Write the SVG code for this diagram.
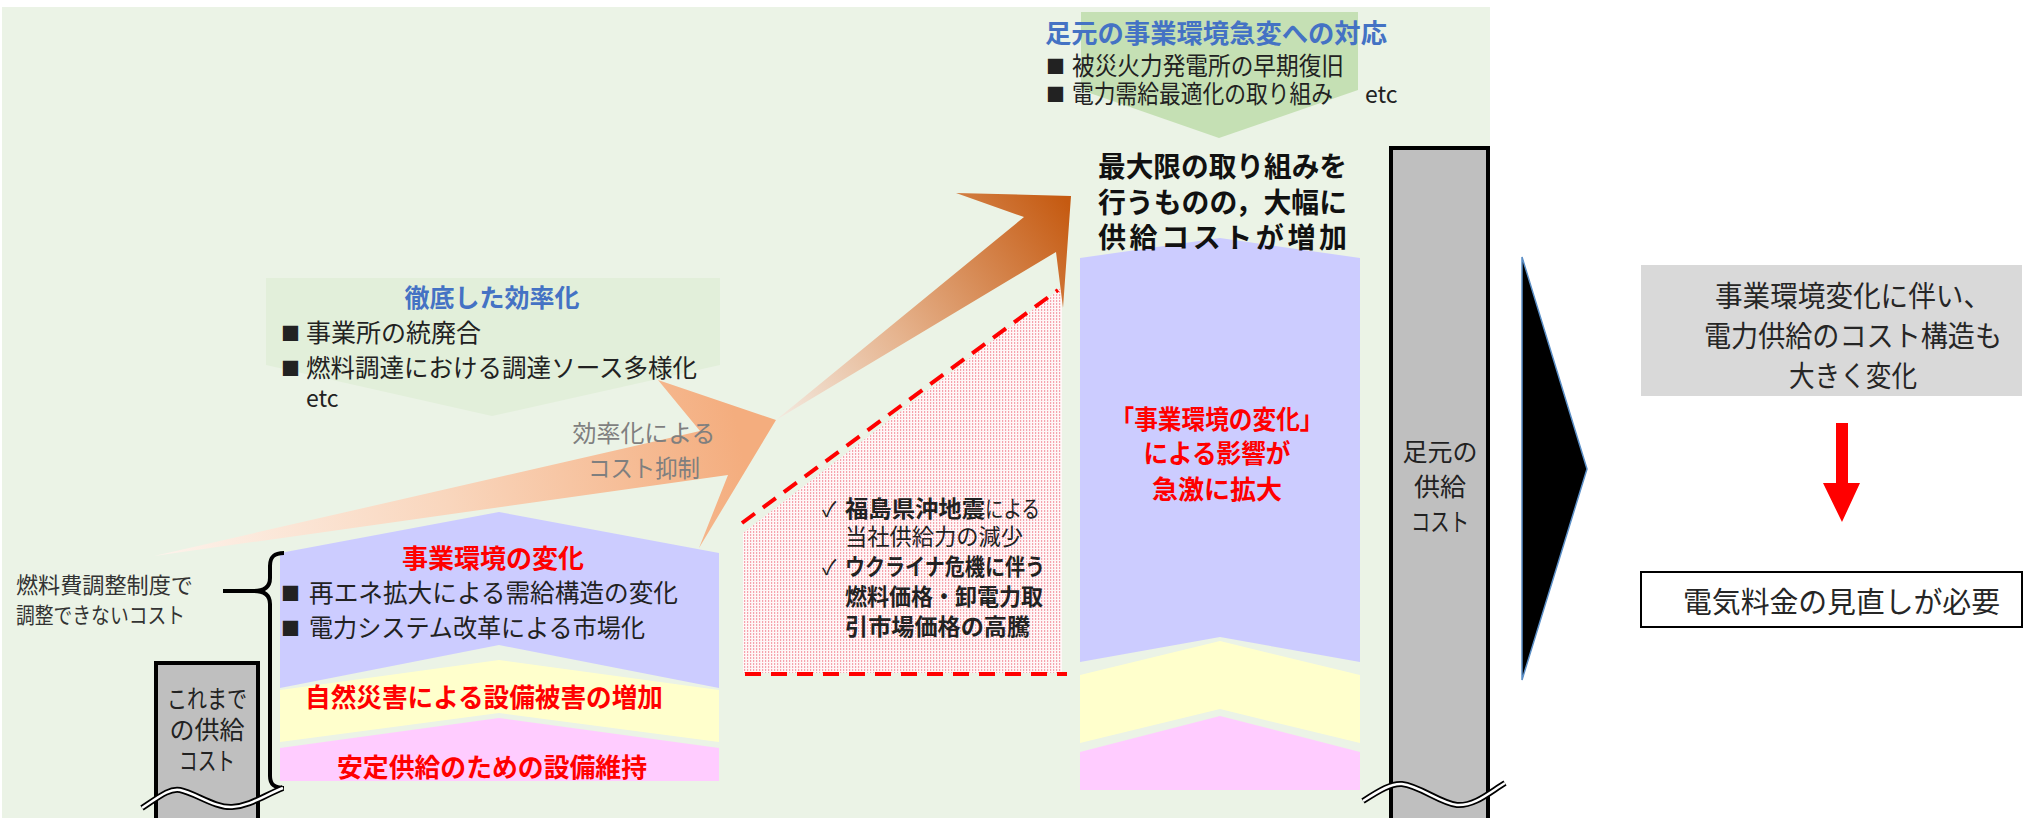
<svg xmlns="http://www.w3.org/2000/svg" width="2030" height="818" viewBox="0 0 2030 818">
<defs>
<style>
text{font-family:'Noto Sans CJK JP','Noto Sans CJK SC',sans-serif;}
.b{font-weight:bold;}
.blk{fill:#222;}
.red{fill:#ff0000;font-weight:bold;}
.blue{fill:#4472c4;font-weight:bold;}
.col{fill:#bfbfbf;stroke:#000;stroke-width:4;}
.wave1{fill:none;stroke:#000;stroke-width:6;}
.wave2{fill:none;stroke:#fff;stroke-width:2.5;}
.dash{fill:none;stroke:#ff0000;stroke-width:4;stroke-dasharray:16 10;}
</style>
<pattern id="dots" width="3" height="3" patternUnits="userSpaceOnUse">
<rect width="3" height="3" fill="#fff7f7"/>
<rect x="0" y="0" width="1.2" height="2" fill="#f5a3ad"/>
</pattern>
<linearGradient id="g1" gradientUnits="userSpaceOnUse" x1="154" y1="556" x2="740" y2="440">
<stop offset="0" stop-color="#fdf3ec"/>
<stop offset="0.5" stop-color="#f9d6bd"/>
<stop offset="1" stop-color="#f4ad7e"/>
</linearGradient>
<linearGradient id="g2" gradientUnits="userSpaceOnUse" x1="780" y1="420" x2="1070" y2="205">
<stop offset="0" stop-color="#f3e9df"/>
<stop offset="0.4" stop-color="#e6b48f"/>
<stop offset="1" stop-color="#c55a11"/>
</linearGradient>
</defs>

<rect x="0" y="0" width="2030" height="818" fill="#ffffff"/>
<rect id="background" x="2" y="7" width="1488" height="811" fill="#ebf3e6"/>

<g id="efficiency">
<polygon points="266,278 720,278 720,365 492,416 266,365" fill="#e2efda"/>
<text class="blue" x="492" y="307" font-size="25" text-anchor="middle">徹底した効率化</text>
<text class="blk" x="281" y="341" font-size="19">■</text>
<text class="blk" x="306" y="342" font-size="25">事業所の統廃合</text>
<text class="blk" x="281" y="376" font-size="19">■</text>
<text class="blk" x="306" y="377" font-size="25" textLength="391" lengthAdjust="spacingAndGlyphs">燃料調達における調達ソース多様化</text>
<text class="blk" x="306" y="407" font-size="23">etc</text>
</g>

<g id="response">
<polygon points="1081,12 1358,12 1358,90 1219,138 1081,90" fill="#c5e0b4"/>
<text class="blue" x="1045" y="43" font-size="26" textLength="342" lengthAdjust="spacingAndGlyphs">足元の事業環境急変への対応</text>
<text class="blk" x="1046" y="74" font-size="19">■</text>
<text class="blk" x="1072" y="75" font-size="25" textLength="272" lengthAdjust="spacingAndGlyphs">被災火力発電所の早期復旧</text>
<text class="blk" x="1046" y="102" font-size="19">■</text>
<text class="blk" x="1072" y="103" font-size="25" textLength="261" lengthAdjust="spacingAndGlyphs">電力需給最適化の取り組み</text>
<text class="blk" x="1365" y="103" font-size="23">etc</text>
</g>

<g id="impact-area">
<polygon points="743,533 1062,287 1062,673 743,673" fill="url(#dots)"/>
<text class="blk" x="822" y="517" font-size="21">✓</text>
<text class="blk b" x="845" y="517" font-size="23" textLength="140" lengthAdjust="spacingAndGlyphs">福島県沖地震</text>
<text class="blk" x="985" y="517" font-size="23" textLength="55" lengthAdjust="spacingAndGlyphs">による</text>
<text class="blk" x="845" y="545" font-size="23" textLength="178" lengthAdjust="spacingAndGlyphs">当社供給力の減少</text>
<text class="blk" x="822" y="575" font-size="21">✓</text>
<text class="blk b" x="845" y="575" font-size="23" textLength="200" lengthAdjust="spacingAndGlyphs">ウクライナ危機に伴う</text>
<text class="blk b" x="845" y="605" font-size="23" textLength="198" lengthAdjust="spacingAndGlyphs">燃料価格・卸電力取</text>
<text class="blk b" x="845" y="635" font-size="23" textLength="185" lengthAdjust="spacingAndGlyphs">引市場価格の高騰</text>
</g>

<g id="connectors">
<polyline class="dash" points="742,523 1058,290"/>
<line class="dash" x1="745" y1="674" x2="1067" y2="674"/>
<polygon id="arrow-efficiency" points="154,556 700,431 658,380 776,420 699,548 728,475" fill="url(#g1)"/>
<polygon id="arrow-increase" points="776,420 1024,217 956,193 1071,196 1063,308 1056,252" fill="url(#g2)"/>
<polygon id="arrow-down" points="1836,423 1848,423 1848,483 1860,483 1842,522 1823,483 1836,483" fill="#ff0000"/>
<polygon id="big-chevron" points="1522,257 1587,469 1522,680" fill="#000" stroke="#5b8fc7" stroke-width="1.5"/>
</g>

<g id="arrow-label">
<text x="644" y="442" font-size="24" fill="#7f7f7f" text-anchor="middle" textLength="143" lengthAdjust="spacingAndGlyphs">効率化による</text>
<text x="644" y="477" font-size="24" fill="#7f7f7f" text-anchor="middle" textLength="112" lengthAdjust="spacingAndGlyphs">コスト抑制</text>
</g>

<g id="past-stack">
<polygon points="280,553 499,512 719,553 719,688 499,645 280,688" fill="#ccccff"/>
<polygon points="280,690 499,660 719,690 719,742 499,713 280,742" fill="#ffffcc"/>
<polygon points="280,748 499,718 719,748 719,781 280,781" fill="#ffccff"/>
<text class="red" x="493" y="568" font-size="26" text-anchor="middle">事業環境の変化</text>
<text class="blk" x="281" y="601" font-size="19">■</text>
<text class="blk" x="309" y="602" font-size="25" textLength="369" lengthAdjust="spacingAndGlyphs">再エネ拡大による需給構造の変化</text>
<text class="blk" x="281" y="636" font-size="19">■</text>
<text class="blk" x="309" y="637" font-size="25" textLength="336" lengthAdjust="spacingAndGlyphs">電力システム改革による市場化</text>
<text class="red" x="305" y="707" font-size="26" textLength="358" lengthAdjust="spacingAndGlyphs">自然災害による設備被害の増加</text>
<text class="red" x="337" y="777" font-size="26" textLength="310" lengthAdjust="spacingAndGlyphs">安定供給のための設備維持</text>
</g>

<g id="brace">
<path d="M284,553 C274,553 270,557 270,566 L270,578 C270,587 264,591 254,591 C264,591 270,595 270,604 L270,776 C270,784 274,788 284,788" fill="none" stroke="#000" stroke-width="4"/>
<line x1="223" y1="591" x2="256" y2="591" stroke="#000" stroke-width="4"/>
<text x="16" y="593" font-size="22" fill="#333" textLength="177" lengthAdjust="spacingAndGlyphs">燃料費調整制度で</text>
<text x="16" y="623" font-size="22" fill="#333" textLength="169" lengthAdjust="spacingAndGlyphs">調整できないコスト</text>
</g>

<g id="past-cost">
<rect class="col" x="156" y="663" width="102" height="170"/>
<text x="207" y="708" font-size="25" fill="#222" text-anchor="middle" textLength="80" lengthAdjust="spacingAndGlyphs">これまで</text>
<text x="207" y="739" font-size="25" fill="#222" text-anchor="middle" textLength="75" lengthAdjust="spacingAndGlyphs">の供給</text>
<text x="207" y="770" font-size="25" fill="#222" text-anchor="middle" textLength="56" lengthAdjust="spacingAndGlyphs">コスト</text>
<path class="wave1" d="M142,808 C160,796 170,788 180,790 C195,793 215,808 232,807 C250,806 265,795 283,788"/>
<path class="wave2" d="M142,808 C160,796 170,788 180,790 C195,793 215,808 232,807 C250,806 265,795 283,788"/>
</g>

<g id="current-stack">
<polygon points="1080,258 1220,238 1360,258 1360,662 1220,637 1080,662" fill="#ccccff"/>
<polygon points="1080,675 1220,641 1360,675 1360,743 1220,709 1080,743" fill="#ffffcc"/>
<polygon points="1080,752 1220,716 1360,752 1360,790 1080,790" fill="#ffccff"/>
<text class="red" x="1217" y="429" font-size="26" text-anchor="middle" textLength="213" lengthAdjust="spacingAndGlyphs">「事業環境の変化」</text>
<text class="red" x="1217" y="463" font-size="26" text-anchor="middle" textLength="147" lengthAdjust="spacingAndGlyphs">による影響が</text>
<text class="red" x="1217" y="499" font-size="26" text-anchor="middle" textLength="130" lengthAdjust="spacingAndGlyphs">急激に拡大</text>
</g>

<g id="increase-label">
<text class="b" x="1098" y="177" font-size="28" fill="#111" textLength="249" lengthAdjust="spacingAndGlyphs">最大限の取り組みを</text>
<text class="b" x="1098" y="213" font-size="28" fill="#111" textLength="249" lengthAdjust="spacingAndGlyphs">行うものの，大幅に</text>
<text class="b" x="1098" y="248" font-size="28" fill="#111" textLength="249" lengthAdjust="spacing">供給コストが増加</text>
</g>

<g id="current-cost">
<rect class="col" x="1391" y="148" width="97" height="690"/>
<text x="1440" y="461" font-size="25" fill="#222" text-anchor="middle" textLength="75" lengthAdjust="spacingAndGlyphs">足元の</text>
<text x="1440" y="496" font-size="25" fill="#222" text-anchor="middle" textLength="52" lengthAdjust="spacingAndGlyphs">供給</text>
<text x="1440" y="531" font-size="25" fill="#222" text-anchor="middle" textLength="58" lengthAdjust="spacingAndGlyphs">コスト</text>
<path class="wave1" d="M1363,801 C1380,790 1392,783 1402,784 C1420,786 1440,803 1457,805 C1475,806 1490,792 1505,783"/>
<path class="wave2" d="M1363,801 C1380,790 1392,783 1402,784 C1420,786 1440,803 1457,805 C1475,806 1490,792 1505,783"/>
</g>

<g id="conclusion-structure">
<rect x="1641" y="265" width="381" height="131" fill="#d9d9d9"/>
<text x="1853" y="307" font-size="29" fill="#262626" text-anchor="middle" textLength="276" lengthAdjust="spacingAndGlyphs">事業環境変化に伴い、</text>
<text x="1853" y="347" font-size="29" fill="#262626" text-anchor="middle" textLength="298" lengthAdjust="spacingAndGlyphs">電力供給のコスト構造も</text>
<text x="1853" y="387" font-size="29" fill="#262626" text-anchor="middle" textLength="128" lengthAdjust="spacingAndGlyphs">大きく変化</text>
</g>

<g id="conclusion-review">
<rect x="1641" y="572" width="381" height="55" fill="#ffffff" stroke="#000" stroke-width="2"/>
<text x="1683" y="613" font-size="29" fill="#262626" textLength="317" lengthAdjust="spacingAndGlyphs">電気料金の見直しが必要</text>
</g>
</svg>
